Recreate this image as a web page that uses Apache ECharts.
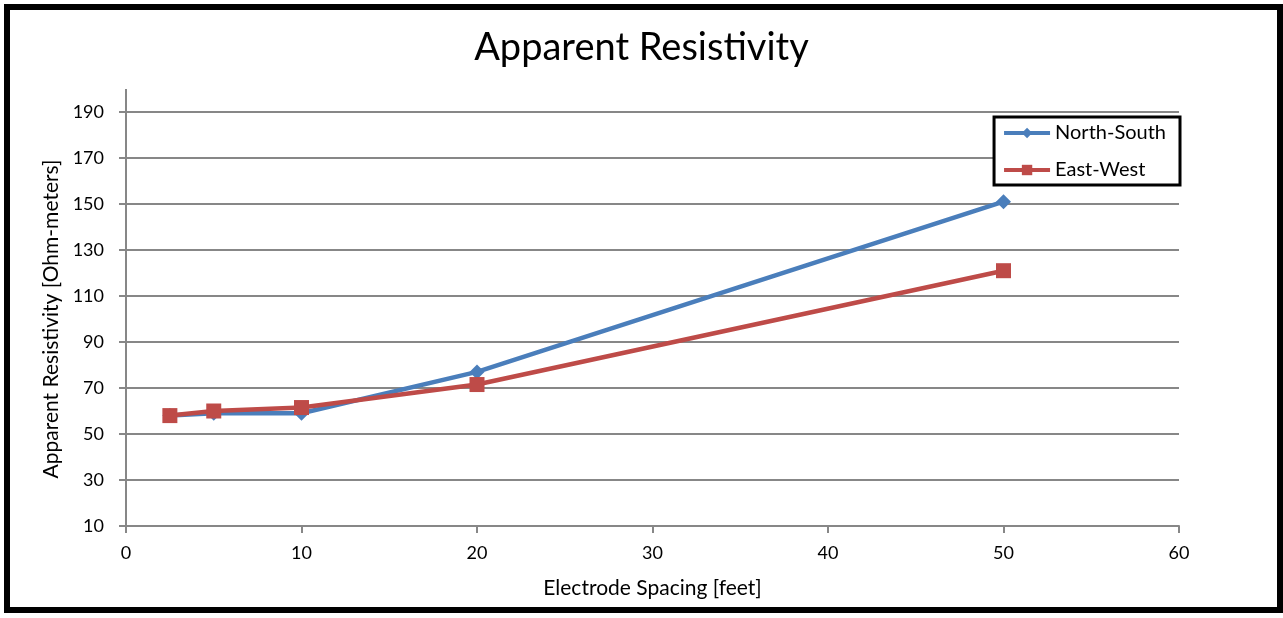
<!DOCTYPE html>
<html>
<head>
<meta charset="utf-8">
<script src="https://cdn.jsdelivr.net/npm/echarts@6/dist/echarts.min.js"></script>
<style>
  html, body { margin: 0; padding: 0; background: #fff; }
  #chart { width: 1283px; height: 618px; }
</style>
</head>
<body>
<div id="chart"></div>
<script>
// Electrode spacing (feet) and measured apparent resistivity (Ohm-meters)
const spacing = [2.5, 5, 10, 20, 50];
const northSouth = [58, 59, 59, 77, 151];
const eastWest = [58, 60, 61.5, 71.5, 121];
const xTicks = [0, 10, 20, 30, 40, 50, 60];
const yTicks = [10, 30, 50, 70, 90, 110, 130, 150, 170, 190];

const FONT = 'Lato, "Open Sans", sans-serif';
const GRID = '#878787';
const BLUE = '#4A7EBB';
const RED = '#BE4B48';

const chart = echarts.init(document.getElementById('chart'));

const pairs = (ys) => spacing.map((x, i) => [x, ys[i]]);

chart.setOption({
  animation: false,
  backgroundColor: '#fff',
  title: {
    text: 'Apparent Resistivity',
    left: 'center',
    top: 24,
    textStyle: { fontFamily: FONT, fontSize: 38, fontWeight: 'normal', color: '#000' }
  },
  legend: {
    right: 103,
    top: 117,
    orient: 'vertical',
    itemGap: 17,
    itemWidth: 46,
    itemHeight: 13,
    padding: [6, 14, 5, 8],
    borderColor: '#000',
    borderWidth: 3,
    backgroundColor: '#fff',
    textStyle: { fontFamily: FONT, fontSize: 20, color: '#000' },
    data: [
      { name: 'North-South', lineStyle: { width: 4, color: BLUE } },
      { name: 'East-West', lineStyle: { width: 4, color: RED } }
    ]
  },
  grid: { left: 126, right: 104, top: 112, bottom: 92 },
  xAxis: {
    type: 'value',
    min: xTicks[0],
    max: xTicks[xTicks.length - 1],
    interval: 10,
    name: 'Electrode Spacing [feet]',
    nameLocation: 'middle',
    nameGap: 52,
    nameTextStyle: { fontFamily: FONT, fontSize: 21, color: '#000' },
    axisLine: { lineStyle: { color: GRID, width: 2 } },
    axisTick: { show: true, length: 7, lineStyle: { color: GRID, width: 2 } },
    axisLabel: { fontFamily: FONT, fontSize: 18, color: '#000', margin: 18 },
    splitLine: { show: false }
  },
  yAxis: {
    type: 'value',
    min: yTicks[0],
    max: yTicks[yTicks.length - 1],
    interval: 20,
    name: 'Apparent Resistivity [Ohm-meters]',
    nameLocation: 'middle',
    nameGap: 64,
    nameTextStyle: { fontFamily: FONT, fontSize: 21, color: '#000' },
    axisLine: { show: true, lineStyle: { color: GRID, width: 2 } },
    axisTick: { show: true, length: 7, lineStyle: { color: GRID, width: 2 } },
    axisLabel: { fontFamily: FONT, fontSize: 18, color: '#000', margin: 22 },
    splitLine: { show: true, lineStyle: { color: GRID, width: 2 } }
  },
  series: [
    {
      name: 'North-South',
      type: 'line',
      data: pairs(northSouth),
      symbol: 'diamond',
      symbolSize: 15,
      itemStyle: { color: BLUE },
      lineStyle: { color: BLUE, width: 4.5 },
      z: 2
    },
    {
      name: 'East-West',
      type: 'line',
      data: pairs(eastWest),
      symbol: 'rect',
      symbolSize: 15,
      itemStyle: { color: RED },
      lineStyle: { color: RED, width: 4.5 },
      z: 3
    }
  ],
  graphic: [
    {
      // outer frame of the chart
      type: 'rect',
      shape: { x: 7, y: 7, width: 1273, height: 603 },
      style: { fill: 'none', stroke: '#000', lineWidth: 6 },
      silent: true
    },
    {
      // value axis runs a little above the top gridline
      type: 'line',
      shape: { x1: 126, y1: 89, x2: 126, y2: 112 },
      style: { stroke: GRID, lineWidth: 2 },
      silent: true
    }
  ]
});
</script>
</body>
</html>
